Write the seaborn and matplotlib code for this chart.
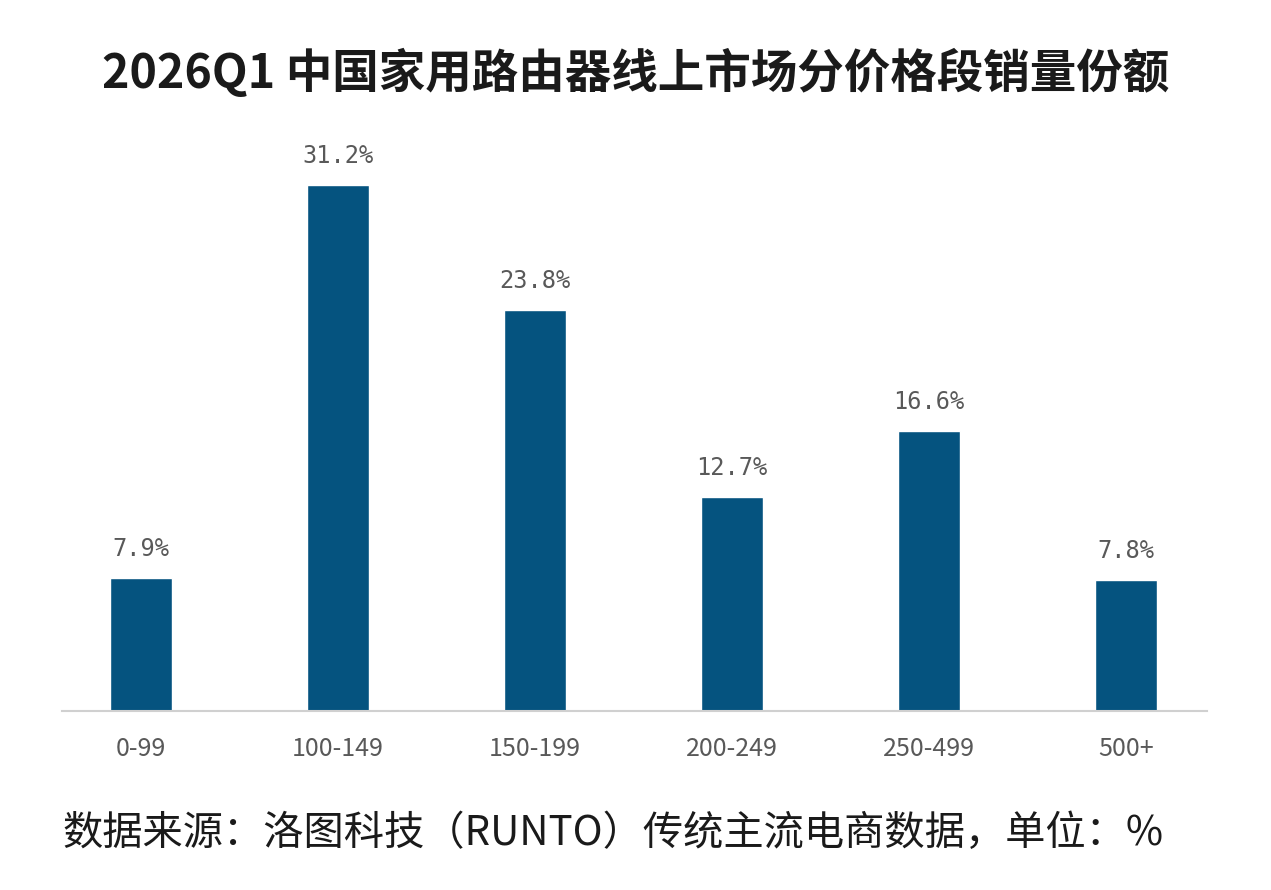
import matplotlib
matplotlib.use("Agg")
import matplotlib.pyplot as plt
import seaborn as sns
import pandas as pd

categories = ["0-99", "100-149", "150-199", "200-249", "250-499", "500+"]
values = [7.9, 31.2, 23.8, 12.7, 16.6, 7.8]
title = "2026Q1 中国家用路由器线上市场分价格段销量份额"
footer = "数据来源：洛图科技（RUNTO）传统主流电商数据，单位：%"

sns.set_theme(style="white")
plt.rcParams['font.family'] = ['Noto Sans CJK SC', 'DejaVu Sans']

fig = plt.figure(figsize=(12.71, 8.9), dpi=100)
ax = fig.add_axes([0.0488, 0.2011, 0.9009, 0.663])
df = pd.DataFrame({"cat": categories, "val": values})
sns.barplot(data=df, x="cat", y="val", color="#05537f", width=0.315, saturation=1, ax=ax)
ax.set_xlim(-0.401, 5.411)
ax.set_ylim(0, 35)
for i, v in enumerate(values):
    ax.text(i, v + 1.0, f"{v:.1f}%", ha="center", va="bottom", fontsize=17,
            color="#595959", family="DejaVu Sans Mono")
for s in ["top", "right", "left"]:
    ax.spines[s].set_visible(False)
ax.spines["bottom"].set_color("#d0d0d0")
ax.spines["bottom"].set_linewidth(1.5)
ax.set_yticks([])
ax.set_xlabel("")
ax.set_ylabel("")
ax.tick_params(axis="x", labelsize=18, labelcolor="#595959", pad=18, length=0)
fig.text(0.5, 0.917, title, ha="center", va="center", fontsize=33.5, fontweight="bold",
         color="#1a1a1a")
fig.text(0.049, 0.064, footer, ha="left", va="center", fontsize=29, color="#1a1a1a")
fig.savefig("out.png", dpi=100, facecolor="white")
